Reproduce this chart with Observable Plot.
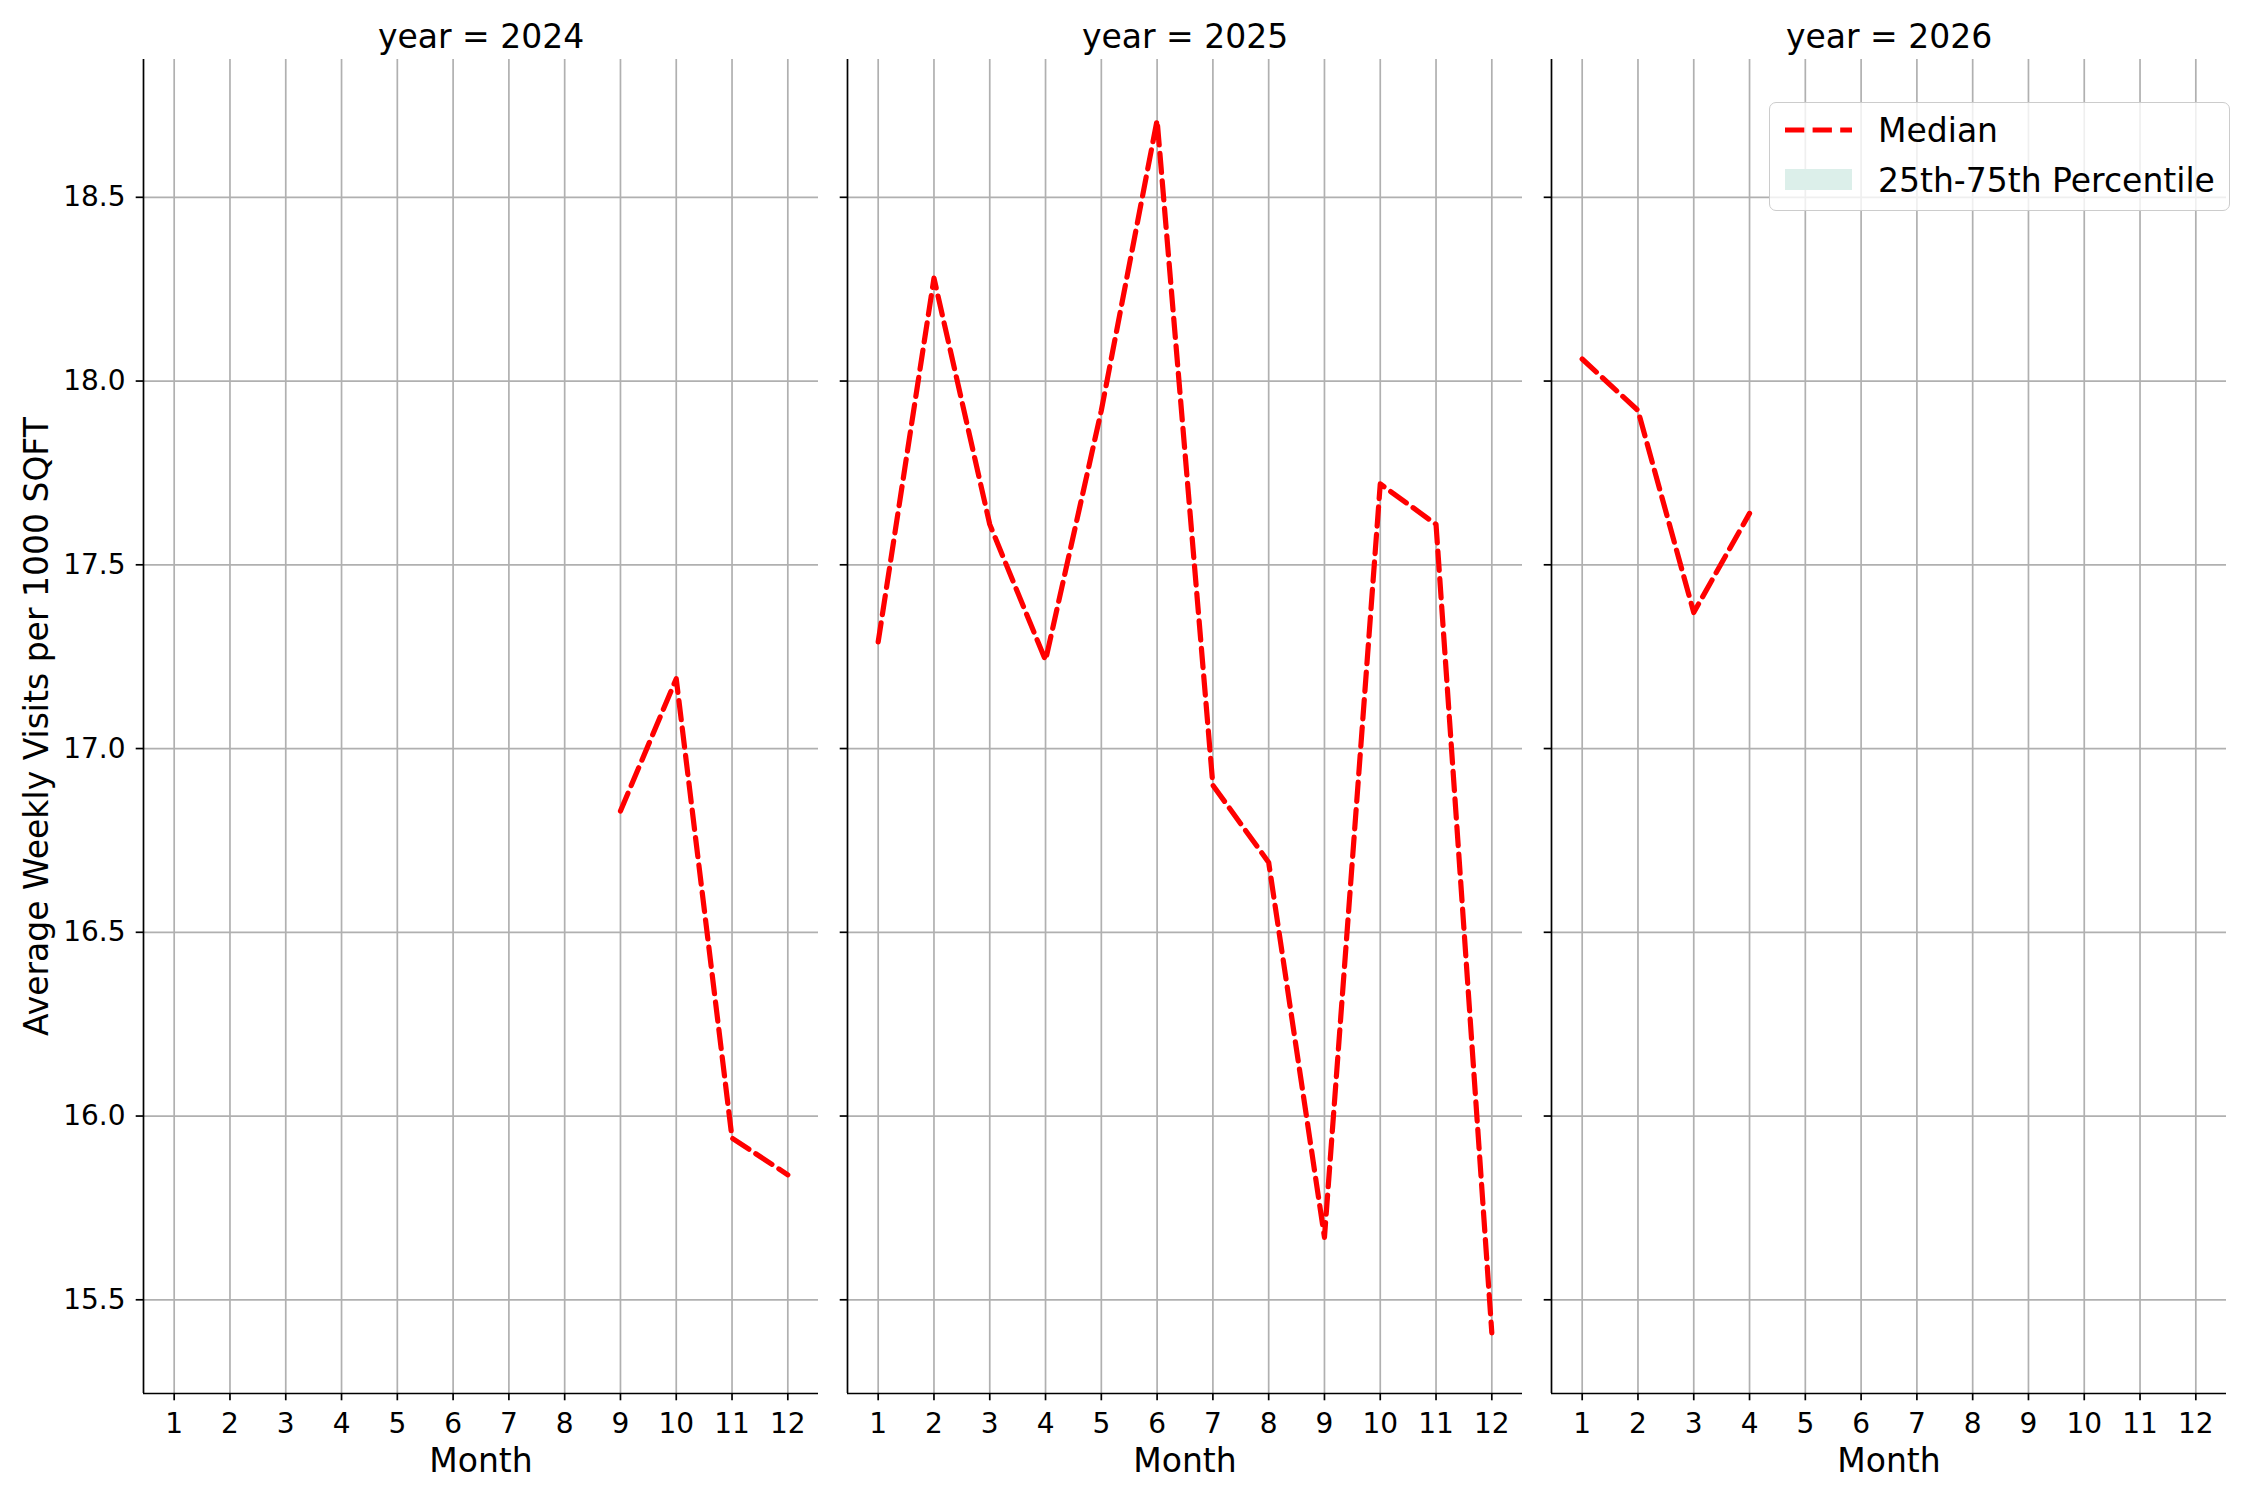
<!DOCTYPE html>
<html>
<head>
<meta charset="utf-8">
<script src="https://cdn.jsdelivr.net/npm/d3@7"></script>
<script src="https://cdn.jsdelivr.net/npm/@observablehq/plot@0.6"></script>
<style>
  html, body { margin: 0; padding: 0; background: white; }
  #wrap { position: relative; width: 2250px; height: 1500px; font-family: "DejaVu Sans", sans-serif; }
  #legend { position: absolute; left: 1769px; top: 102px; width: 461px; height: 109px;
            box-sizing: border-box; border: 1.7px solid #cccccc; border-radius: 7px;
            background: rgba(255,255,255,0.8); }
  #legend svg { position: absolute; left: 0; top: 0; }
</style>
</head>
<body>
<div id="wrap"></div>
<script>
// ---- data ----
const years = [2024, 2025, 2026];
const monthTicks = [1, 2, 3, 4, 5, 6, 7, 8, 9, 10, 11, 12];
const yTicks = [15.5, 16.0, 16.5, 17.0, 17.5, 18.0, 18.5];

const months2024 = [9, 10, 11, 12];
const median2024 = [16.83, 17.19, 15.94, 15.84];

const months2025 = [1, 2, 3, 4, 5, 6, 7, 8, 9, 10, 11, 12];
const median2025 = [17.29, 18.28, 17.61, 17.24, 17.92, 18.71, 16.90, 16.69, 15.67, 17.72, 17.61, 15.41];

const months2026 = [1, 2, 3, 4];
const median2026 = [18.06, 17.92, 17.37, 17.64];

const legendLabels = ["Median", "25th-75th Percentile"];
const yLabel = "Average Weekly Visits per 1000 SQFT";
const xLabel = "Month";

// ---- table ----
const rows = [
  ...months2024.map((m, i) => ({year: 2024, month: m, value: median2024[i]})),
  ...months2025.map((m, i) => ({year: 2025, month: m, value: median2025[i]})),
  ...months2026.map((m, i) => ({year: 2026, month: m, value: median2026[i]}))
];

const allVals = rows.map(d => d.value);
const vmin = d3.min(allVals), vmax = d3.max(allVals), vpad = (vmax - vmin) * 0.05;
const xDomain = [0.45, 12.55];
const yDomain = [vmin - vpad, vmax + vpad];

const axisColor = "#000000";
const gridColor = "#b0b0b0";

const chart = Plot.plot({
  width: 2250,
  height: 1500,
  marginLeft: 142,
  marginRight: 23,
  marginTop: 59,
  marginBottom: 107,
  style: {fontFamily: "DejaVu Sans, sans-serif", fontSize: "28px", color: "black", background: "white", overflow: "visible"},
  fx: {domain: years, paddingInner: 0.041, paddingOuter: 0, axis: null, label: null},
  x: {domain: xDomain, axis: null},
  y: {domain: yDomain, axis: null},
  marks: [
    Plot.gridX(monthTicks, {stroke: gridColor, strokeOpacity: 1, strokeWidth: 1.7}),
    Plot.gridY(yTicks, {stroke: gridColor, strokeOpacity: 1, strokeWidth: 1.7}),
    Plot.axisY(yTicks, {anchor: "left", facetAnchor: null, tickFormat: () => "", tickSize: 7.3,
      stroke: axisColor, strokeWidth: 1.7, label: null}),
    Plot.axisY(yTicks, {anchor: "left", facetAnchor: "left", tickFormat: d3.format(".1f"), tickSize: 0,
      tickPadding: 18, fontSize: 28, fill: "black", label: null}),
    Plot.axisX(monthTicks, {anchor: "bottom", facetAnchor: null, tickFormat: d => String(d), tickSize: 7.3,
      tickPadding: 12, stroke: axisColor, strokeWidth: 1.7, fontSize: 28, fill: "black", label: null}),
    Plot.ruleX([xDomain[0]], {stroke: axisColor, strokeWidth: 1.7}),
    Plot.ruleY([yDomain[0]], {stroke: axisColor, strokeWidth: 1.7}),
    Plot.line(rows, {x: "month", y: "value", fx: "year", stroke: "red", strokeWidth: 5.2,
      strokeDasharray: "19.3,8.3", strokeLinejoin: "round"}),
    Plot.text(years, {fx: d => d, text: d => `year = ${d}`, frameAnchor: "top", dy: -35, fontSize: 33, fill: "black"}),
    Plot.text([xLabel], {frameAnchor: "bottom", dy: 78, fontSize: 33, fill: "black"}),
    Plot.text([years[0]], {fx: d => d, text: () => yLabel, frameAnchor: "left", textAnchor: "middle",
      dx: -106, rotate: -90, fontSize: 33, fill: "black"})
  ]
});

const wrap = document.getElementById("wrap");
wrap.appendChild(chart);

// ---- legend ----
const leg = document.createElement("div");
leg.id = "legend";
leg.innerHTML = `
<svg width="461" height="109" xmlns="http://www.w3.org/2000/svg" font-family="DejaVu Sans, sans-serif">
  <line x1="15" y1="27" x2="82" y2="27" stroke="red" stroke-width="5.2" stroke-dasharray="19.3,8.3"/>
  <text x="108" y="27" dy="0.35em" font-size="33" fill="black">${legendLabels[0]}</text>
  <rect x="15" y="66" width="67" height="21" fill="#dcefea"/>
  <text x="108" y="77" dy="0.35em" font-size="33" fill="black">${legendLabels[1]}</text>
</svg>`;
wrap.appendChild(leg);
</script>
</body>
</html>
